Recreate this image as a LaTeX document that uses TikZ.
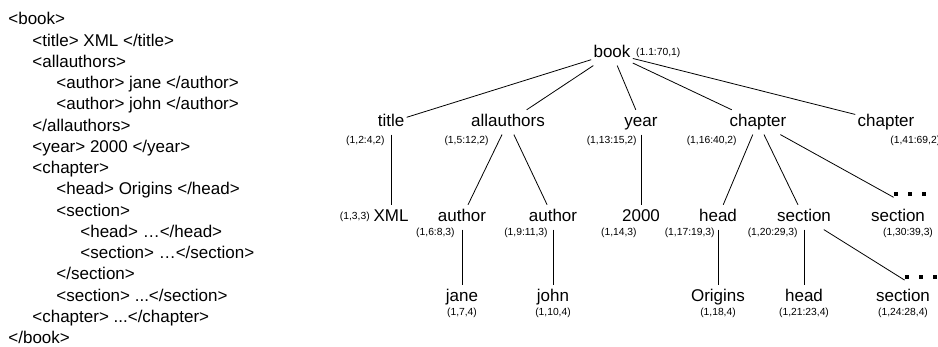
\documentclass[tikz,border=0pt]{standalone}
\usepackage{fontspec}
\setmainfont{Liberation Sans}
\usetikzlibrary{positioning}
\tikzset{
  tag/.style={ % element name in the tree
    font=\fontsize{17}{20}\selectfont, anchor=base,
    text height=12.5pt, text depth=3.5pt,
    inner xsep=2pt, inner ysep=4pt
  },
  lbl/.style={ % region numbers of an element
    font=\fontsize{10.3}{12}\selectfont, inner sep=1pt
  },
  xmlline/.style={
    font=\fontsize{17}{20}\selectfont, anchor=base west, inner sep=0pt
  },
  more/.style={ % three squares: more children follow
    minimum width=32pt, minimum height=5pt, inner sep=0pt,
    path picture={
      \foreach \k in {-1,0,1}
        \fill ([xshift=\k*14pt-2pt, yshift=-2pt]path picture bounding box.center) rectangle ++(4pt,4pt);
    }
  }
}

\begin{document}
\begin{tikzpicture}[x=1pt, y=-1pt, line width=0.8pt]
    \useasboundingbox (0,0) rectangle (938,347);

    % the document
    \foreach \lvl/\txt [count=\i] in {0/{<book>}, 1/{<title> XML </title>}, 1/{<allauthors>},
        2/{<author> jane </author>}, 2/{<author> john </author>}, 1/{</allauthors>},
        1/{<year> 2000 </year>}, 1/{<chapter>}, 2/{<head> Origins </head>}, 2/{<section>},
        3/{<head> …</head>}, 3/{<section> …</section>}, 2/{</section>},
        2/{<section> ...</section>}, 1/{<chapter> ...</chapter>}, 0/{</book>}}
      \node[xmlline] (line\i) at ({8+24*\lvl},{25+21.25*(\i-1)}) {\txt};

    % the tree
    \node[tag] (book) at (612,57.7) {book};
    \node[tag] (title) at (391,126.7) {title};
    \node[tag] (allauthors) at (508,126.7) {allauthors};
    \node[tag] (year) at (641,126.7) {year};
    \node[tag] (chapter1) at (758,126.7) {chapter};
    \node[tag] (chapter2) at (886,126.7) {chapter};
    \node[tag] (xml) at (391,221.7) {XML};
    \node[tag] (author1) at (462,221.7) {author};
    \node[tag] (author2) at (553,221.7) {author};
    \node[tag] (y2000) at (641,221.7) {2000};
    \node[tag] (head1) at (718,221.7) {head};
    \node[tag] (section1) at (804,221.7) {section};
    \node[tag] (section2) at (898,221.7) {section};
    \node[tag] (jane) at (462,301.7) {jane};
    \node[tag] (john) at (553,301.7) {john};
    \node[tag] (origins) at (718,301.7) {Origins};
    \node[tag] (head2) at (804,301.7) {head};
    \node[tag] (section3) at (903,301.7) {section};
    \node[more, above=7.5pt of section2, xshift=12pt] (more2) {};
    \node[more, above=4.7pt of section3, xshift=18pt] (more3) {};

    % region numbers
    \node[lbl, right=2pt of book] (book_r) {(1.1:70,1)};
    \node[lbl, below left=0pt and 5pt of title.south] (title_r) {(1,2:4,2)};
    \node[lbl, below left=0pt and 18pt of allauthors.south] (allauthors_r) {(1,5:12,2)};
    \node[lbl, below left=0pt and 3pt of year.south] (year_r) {(1,13:15,2)};
    \node[lbl, below left=0pt and 20pt of chapter1.south] (chapter1_r) {(1,16:40,2)};
    \node[lbl, below right=0pt and 3pt of chapter2.south] (chapter2_r) {(1,41:69,2)};
    \node[lbl, left=0pt of xml] (xml_r) {(1,3,3)};
    \node[lbl, below left=-3pt and 6pt of author1.south] (author1_r) {(1,6:8,3)};
    \node[lbl, below left=-3pt and 4pt of author2.south] (author2_r) {(1,9:11,3)};
    \node[lbl, below left=-3pt and 3pt of y2000.south] (y2000_r) {(1,14,3)};
    \node[lbl, below left=-3pt and 2pt of head1.south] (head1_r) {(1,17:19,3)};
    \node[lbl, below left=-3pt and 5pt of section1.south] (section1_r) {(1,20:29,3)};
    \node[lbl, below=-3pt of section2.south, xshift=10pt] (section2_r) {(1,30:39,3)};
    \node[lbl, below=-3pt of jane] (jane_r) {(1,7,4)};
    \node[lbl, below=-3pt of john] (john_r) {(1,10,4)};
    \node[lbl, below=-3pt of origins] (origins_r) {(1,18,4)};
    \node[lbl, below=-3pt of head2] (head2_r) {(1,21:23,4)};
    \node[lbl, below=-3pt of section3] (section3_r) {(1,24:28,4)};

    \draw (book) -- (title);
    \draw (book) -- (allauthors);
    \draw (book) -- (year);
    \draw (book) -- (chapter1);
    \draw (book) -- (chapter2);
    \draw (title) -- (xml);
    \draw (allauthors) -- (author1);
    \draw (allauthors) -- (author2);
    \draw (year) -- (y2000);
    \draw (chapter1) -- (head1);
    \draw (chapter1) -- (section1);
    \draw (chapter1) -- (more2.south west);
    \draw (author1) -- (jane);
    \draw (author2) -- (john);
    \draw (head1) -- (origins);
    \draw (section1) -- (head2);
    \draw (section1) -- (more3.south west);
\end{tikzpicture}
\end{document}
